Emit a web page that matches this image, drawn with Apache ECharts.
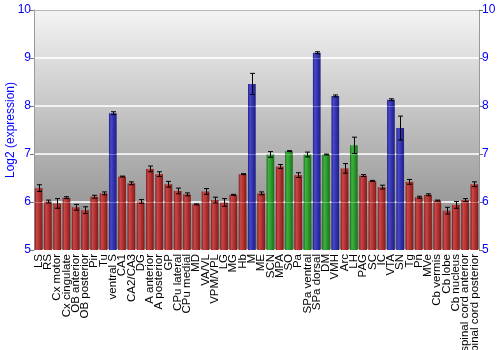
<!DOCTYPE html>
<html><head><meta charset="utf-8">
<script src="https://cdn.jsdelivr.net/npm/echarts@6/dist/echarts.min.js"></script>
<style>html,body{margin:0;padding:0;background:#fff}#c{width:500px;height:350px}</style>
</head><body><div id="c"></div>
<script>
const categories = ["LS","RS","Cx motor","Cx cingulate","OB anterior","OB posterior","Pir","Tu","ventral S","CA1","CA2/CA3","DG","A anterior","A posterior","GP","CPu lateral","CPu medial","MD","VA/VL","VPM/VPL","LG","MG","Hb","M","ME","SCN","MPA","SO","Pa","SPa ventral","SPa dorsal","DM","VMH","Arc","LH","PAG","SC","IC","VTA","SN","Tg","Pn","MVe","Cb vermis","Cb lobe","Cb nucleus","spinal cord anterior","spinal cord posterior"];
const values = [6.29,6.01,5.97,6.09,5.89,5.83,6.11,6.18,7.85,6.53,6.39,6.01,6.69,6.58,6.37,6.23,6.16,5.95,6.22,6.04,5.99,6.15,6.58,8.46,6.18,6.99,6.74,7.06,6.56,6.99,9.11,6.99,8.21,6.7,7.18,6.55,6.44,6.31,8.13,7.54,6.42,6.10,6.15,6.03,5.82,5.94,6.04,6.37];
const errors = [0.07,0.03,0.1,0.02,0.06,0.07,0.03,0.03,0.03,0.01,0.03,0.04,0.06,0.05,0.06,0.06,0.03,0.01,0.06,0.06,0.08,0.01,0.01,0.22,0.03,0.06,0.04,0.01,0.05,0.05,0.02,0.01,0.02,0.1,0.17,0.02,0.01,0.04,0.02,0.25,0.05,0.02,0.02,0.01,0.07,0.07,0.03,0.05];
// group: r = red, b = blue, g = green
const groups = ["r","r","r","r","r","r","r","r","b","r","r","r","r","r","r","r","r","r","r","r","r","r","r","b","r","g","r","g","r","g","b","g","b","r","g","r","r","r","b","b","r","r","r","r","r","r","r","r"];
const yTicks = [5,6,7,8,9,10];

function grad(edge, mid, light){
  return new echarts.graphic.LinearGradient(0,0,1,0,[
    {offset:0,color:edge},{offset:0.25,color:light},{offset:0.55,color:mid},{offset:1,color:edge}]);
}
const fills = {
  r: grad('#7d1c1c','#b83232','#c84848'),
  b: grad('#1f1f80','#3434b4','#4848c8'),
  g: grad('#1a6e1a','#2e9e2e','#40b040')
};
const chart = echarts.init(document.getElementById('c'), null, {renderer:'canvas'});
const font = '"Liberation Sans", Arial, sans-serif';
chart.setOption({
  animation:false,
  textStyle:{fontFamily:font},
  grid:{left:34,right:21,top:10,bottom:100,show:true,borderWidth:0,containLabel:false,outerBoundsMode:'none',
    backgroundColor:new echarts.graphic.LinearGradient(0,0,0,1,[{offset:0,color:'#f4f4f4'},{offset:1,color:'#848484'}])},
  xAxis:[{type:'category',data:categories,boundaryGap:true,
    axisLine:{show:false},axisTick:{show:false},
    axisLabel:{interval:0,rotate:90,fontSize:11.5,color:'#000',margin:4,fontFamily:font,hideOverlap:false}},
    {type:'category',data:categories,position:'top',axisLine:{show:true,lineStyle:{color:'#999'}},axisTick:{show:false},axisLabel:{show:false}}],
  yAxis:[{type:'value',min:5,max:10,interval:1,position:'left',
    name:'Log2 (expression)',nameLocation:'middle',nameGap:17,nameMoveOverlap:false,nameTextStyle:{color:'#0000ff',fontSize:12,fontFamily:font},
    axisLine:{show:true,lineStyle:{color:'#999'}},axisTick:{show:true,length:4,lineStyle:{color:'#777'}},
    axisLabel:{color:'#0000ff',fontSize:12,margin:3,fontFamily:font,formatter:v=>yTicks.includes(v)?String(v):''},
    splitLine:{show:true,lineStyle:{color:'#ffffff',width:1.5}}},
   {type:'value',min:5,max:10,interval:1,position:'right',z:5,
    axisLine:{show:true,lineStyle:{color:'#999'}},axisTick:{show:true,length:4,lineStyle:{color:'#777'}},
    axisLabel:{color:'#0000ff',fontSize:12,margin:3,fontFamily:font},
    splitLine:{show:true,lineStyle:{color:'rgba(255,255,255,0.3)',width:1}}}],
  series:[{type:'bar',barCategoryGap:'17%',
    data:values.map((v,i)=>({value:v,itemStyle:{color:fills[groups[i]]}}))},
   {type:'custom',z:10,
    data:values.map((v,i)=>[i,v-errors[i],v+errors[i]]),
    renderItem:function(params,api){
      const lo=api.coord([api.value(0),api.value(1)]);
      const hi=api.coord([api.value(0),api.value(2)]);
      const x=Math.round(lo[0])+0.5, c=2.5;
      const st={stroke:'#000',lineWidth:1};
      return {type:'group',children:[
        {type:'line',shape:{x1:x,y1:lo[1],x2:x,y2:hi[1]},style:st},
        {type:'line',shape:{x1:x-c,y1:lo[1],x2:x+c,y2:lo[1]},style:st},
        {type:'line',shape:{x1:x-c,y1:hi[1],x2:x+c,y2:hi[1]},style:st}]};
    }}]
});
</script></body></html>
